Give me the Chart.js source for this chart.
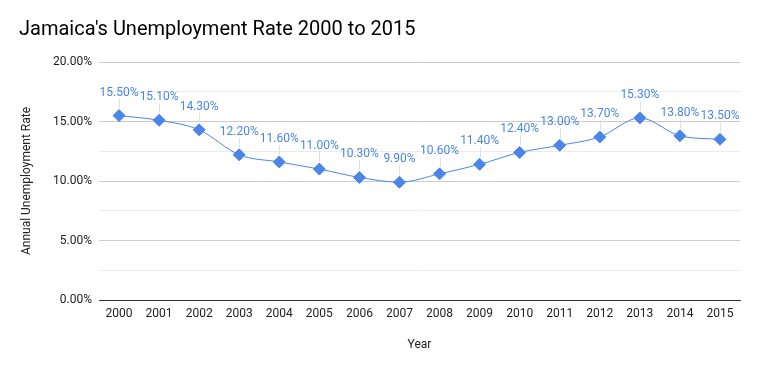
<!DOCTYPE html>
<html>
<head>
<meta charset="utf-8">
<script src="https://cdn.jsdelivr.net/npm/chart.js@4"></script>
<style>
  html, body { margin: 0; padding: 0; background: #fff; }
  #wrap { width: 758px; height: 371px; }
</style>
</head>
<body>
<div id="wrap"><canvas id="myChart"></canvas></div>
<script>
// Jamaica unemployment data
var years = ['2000', '2001', '2002', '2003', '2004', '2005', '2006', '2007',
             '2008', '2009', '2010', '2011', '2012', '2013', '2014', '2015'];
var rates = [15.5, 15.1, 14.3, 12.2, 11.6, 11.0, 10.3, 9.9,
             10.6, 11.4, 12.4, 13.0, 13.7, 15.3, 13.8, 13.5];

// draws the value labels above each point with a small leader line
var valueLabels = {
    id: 'valueLabels',
    afterDatasetsDraw: function (chart) {
        var ctx = chart.ctx;
        var meta = chart.getDatasetMeta(0);
        ctx.save();
        ctx.font = '12px Roboto';
        ctx.textAlign = 'center';
        ctx.textBaseline = 'middle';
        meta.data.forEach(function (pt, i) {
            ctx.strokeStyle = '#e0e0e0';
            ctx.lineWidth = 1;
            ctx.beginPath();
            ctx.moveTo(Math.round(pt.x) + 0.5, pt.y - 7);
            ctx.lineTo(Math.round(pt.x) + 0.5, pt.y - 17);
            ctx.stroke();
            ctx.fillStyle = '#4a86e8';
            ctx.fillText(rates[i].toFixed(2) + '%', pt.x, pt.y - 23);
        });
        ctx.restore();
    }
};

var ctx = document.getElementById('myChart');
var myChart = new Chart(ctx, {
    type: 'line',
    data: {
        labels: years,
        datasets: [{
            label: 'Annual Unemployment Rate',
            data: rates,
            borderColor: '#4a86e8',
            backgroundColor: '#4a86e8',
            borderWidth: 1,
            pointStyle: 'rectRot',
            pointRadius: 6,
            pointHoverRadius: 6,
            cubicInterpolationMode: 'monotone'
        }]
    },
    options: {
        responsive: true,
        maintainAspectRatio: false,
        animation: false,
        layout: { padding: { left: 19, right: 18, top: 0, bottom: 0 } },
        plugins: {
            legend: { display: false },
            tooltip: { enabled: false },
            title: {
                display: true,
                text: "Jamaica's Unemployment Rate 2000 to 2015",
                align: 'start',
                color: '#000',
                font: { family: 'Roboto', size: 20, weight: 'normal' },
                padding: { top: 18, bottom: 20 }
            }
        },
        scales: {
            x: {
                offset: true,
                grid: { display: false, drawTicks: false },
                border: { display: true, color: '#333', width: 1 },
                ticks: { color: '#222', font: { family: 'Roboto', size: 12 }, padding: 7, maxRotation: 0 },
                title: {
                    display: true, text: 'Year', color: '#222',
                    font: { family: 'Roboto', size: 12 },
                    padding: { top: 0, bottom: 19 }
                },
                afterFit: function (scale) { scale.height = 71; }
            },
            y: {
                min: 0,
                max: 20,
                grid: {
                    drawTicks: false,
                    color: function (c) {
                        return (c.tick && c.tick.value % 5 === 0) ? '#cccccc' : '#ebebeb';
                    }
                },
                border: { display: false },
                ticks: {
                    stepSize: 2.5,
                    padding: 7,
                    color: '#222',
                    font: { family: 'Roboto', size: 12 },
                    callback: function (v) {
                        return v % 5 === 0 ? v.toFixed(2) + '%' : '';
                    }
                },
                title: {
                    display: true, text: 'Annual Unemployment Rate', color: '#222',
                    font: { family: 'Roboto', size: 12 },
                    padding: { top: 1, bottom: 0 }
                },
                afterFit: function (scale) { scale.width = 80; }
            }
        }
    },
    plugins: [valueLabels]
});
</script>
</body>
</html>
